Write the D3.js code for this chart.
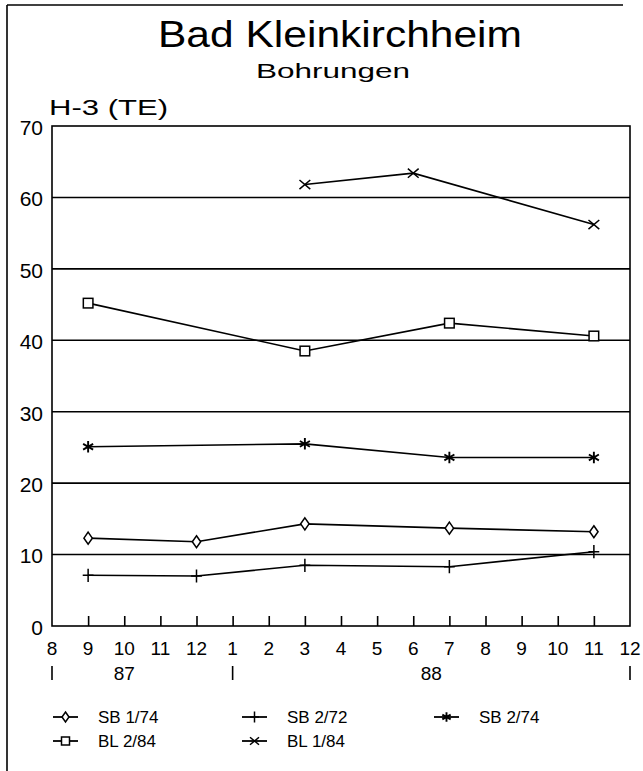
<!DOCTYPE html>
<html>
<head>
<meta charset="utf-8">
<script src="https://cdn.jsdelivr.net/npm/d3@7"></script>
<style>
  body { margin: 0; background: #fff; }
  svg { font-family: "Liberation Sans", Arial, sans-serif; }
</style>
</head>
<body>
<svg id="chart" width="643" height="771"></svg>
<script>
// month axis: Aug 1987 .. Dec 1988, index 0..16
var monthLabels = ["8", "9", "10", "11", "12", "1", "2", "3", "4", "5", "6", "7", "8", "9", "10", "11", "12"];
var yearLabels = ["87", "88"];
var yearRanges = [[0, 4], [5, 16]];
var yearBars = [0, 5, 16];
var yTicks = [0, 10, 20, 30, 40, 50, 60, 70];

// sampling dates as month index
var datesA = [1, 4, 7, 11, 15];   // 9/87, 12/87, 3/88, 7/88, 11/88
var datesB = [1, 7, 11, 15];      // 9/87, 3/88, 7/88, 11/88
var datesC = [7, 10, 15];         // 3/88, 6/88, 11/88

var sb174 = [12.3, 11.8, 14.3, 13.7, 13.2];
var sb272 = [7.1, 7.0, 8.5, 8.3, 10.4];
var sb274 = [25.1, 25.5, 23.6, 23.6];
var bl284 = [45.2, 38.5, 42.4, 40.6];
var bl184 = [61.8, 63.4, 56.2];

var series = [
  { name: "SB 1/74", marker: "diamond", dates: datesA, values: sb174 },
  { name: "SB 2/72", marker: "plus", dates: datesA, values: sb272 },
  { name: "SB 2/74", marker: "star", dates: datesB, values: sb274 },
  { name: "BL 2/84", marker: "square", dates: datesB, values: bl284 },
  { name: "BL 1/84", marker: "cross", dates: datesC, values: bl184 }
];

var svg = d3.select("#chart");
var plotLeft = 52, plotRight = 630, plotTop = 126, plotBottom = 626;

var x = d3.scaleLinear().domain([0, 16]).range([plotLeft, plotRight]);
var y = d3.scaleLinear().domain([0, 70]).range([plotBottom, plotTop]);

// outer frame (top and left edges of the page frame)
svg.append("line").attr("x1", 7).attr("x2", 623).attr("y1", 5).attr("y2", 5)
  .attr("stroke", "#000").attr("stroke-width", 1.6);
svg.append("line").attr("x1", 7).attr("x2", 7).attr("y1", 5).attr("y2", 771)
  .attr("stroke", "#000").attr("stroke-width", 1.6);

// titles
svg.append("text").attr("x", 340).attr("y", 47).attr("text-anchor", "middle")
  .attr("font-size", 37).attr("textLength", 364).attr("lengthAdjust", "spacingAndGlyphs")
  .attr("font-weight", 300)
  .text("Bad Kleinkirchheim");
svg.append("text").attr("x", 333).attr("y", 78).attr("text-anchor", "middle")
  .attr("font-size", 21).attr("textLength", 154).attr("lengthAdjust", "spacingAndGlyphs")
  .text("Bohrungen");
svg.append("text").attr("x", 49).attr("y", 115)
  .attr("font-size", 22).attr("textLength", 119).attr("lengthAdjust", "spacingAndGlyphs")
  .text("H-3 (TE)");

// grid lines
svg.append("g").selectAll("line")
  .data(yTicks.filter(d => d > 0 && d < 70))
  .join("line")
  .attr("x1", plotLeft).attr("x2", plotRight)
  .attr("y1", d => y(d)).attr("y2", d => y(d))
  .attr("stroke", "#000").attr("stroke-width", 1.6);

// plot frame
svg.append("rect").attr("x", plotLeft).attr("y", plotTop)
  .attr("width", plotRight - plotLeft).attr("height", plotBottom - plotTop)
  .attr("fill", "none").attr("stroke", "#000").attr("stroke-width", 1.6);

// y axis labels
var yAxis = d3.axisLeft(y).tickValues(yTicks).tickSize(0).tickPadding(9);
var yg = svg.append("g").attr("transform", "translate(" + plotLeft + ",0)").call(yAxis);
yg.select(".domain").remove();
yg.selectAll("text").attr("font-size", 21).attr("font-family", "Liberation Sans, Arial, sans-serif")
  .attr("fill", "#000").attr("dy", "0.4em");

// x axis: small ticks pointing up
var xAxis = d3.axisTop(x).tickValues(d3.range(1, 16)).tickSize(10).tickFormat("");
var xg = svg.append("g").attr("transform", "translate(0," + plotBottom + ")").call(xAxis);
xg.select(".domain").remove();
xg.selectAll("line").attr("stroke", "#000").attr("stroke-width", 1.6);

svg.append("g").selectAll("text")
  .data(monthLabels)
  .join("text")
  .attr("x", (d, i) => x(i)).attr("y", 655)
  .attr("text-anchor", "middle").attr("font-size", 19)
  .text(d => d);

svg.append("g").selectAll("line")
  .data(yearBars)
  .join("line")
  .attr("x1", d => x(d)).attr("x2", d => x(d))
  .attr("y1", 666).attr("y2", 680)
  .attr("stroke", "#000").attr("stroke-width", 1.6);

svg.append("g").selectAll("text")
  .data(yearLabels)
  .join("text")
  .attr("x", (d, i) => x((yearRanges[i][0] + yearRanges[i][1]) / 2)).attr("y", 680)
  .attr("text-anchor", "middle").attr("font-size", 19)
  .text(d => d);

// marker shapes, s = overall size in px
function drawMarker(g, type, s) {
  var st = { stroke: "#000", "stroke-width": 1.5, fill: "#fff" };
  var el;
  if (type == "diamond") {
    el = g.append("path").attr("d", "M0," + (-s * 0.5) + "L" + (s * 0.35) + ",0L0," + (s * 0.5) + "L" + (-s * 0.35) + ",0Z");
  } else if (type == "square") {
    el = g.append("rect").attr("x", -s * 0.4).attr("y", -s * 0.4).attr("width", s * 0.8).attr("height", s * 0.8);
  } else if (type == "plus") {
    el = g.append("path").attr("d", "M" + (-s * 0.45) + ",0H" + (s * 0.45) + "M0," + (-s * 0.55) + "V" + (s * 0.55));
  } else if (type == "cross") {
    el = g.append("path").attr("d", "M" + (-s * 0.45) + "," + (-s * 0.38) + "L" + (s * 0.45) + "," + (s * 0.38) +
      "M" + (-s * 0.45) + "," + (s * 0.38) + "L" + (s * 0.45) + "," + (-s * 0.38));
  } else {
    var r = s * 0.48;
    el = g.append("path").attr("d",
      "M0," + (-r) + "V" + r +
      "M" + (-r * 0.87) + "," + (-r * 0.5) + "L" + (r * 0.87) + "," + (r * 0.5) +
      "M" + (-r * 0.87) + "," + (r * 0.5) + "L" + (r * 0.87) + "," + (-r * 0.5));
    st["stroke-width"] = 1.9;
  }
  for (var k in st) el.attr(k, st[k]);
}

var line = d3.line().x(d => x(d[0])).y(d => y(d[1]));

series.forEach(function(s) {
  var pts = s.dates.map((d, i) => [d, s.values[i]]);
  svg.append("path").datum(pts)
    .attr("d", line)
    .attr("fill", "none").attr("stroke", "#000").attr("stroke-width", 1.6);
  pts.forEach(function(p) {
    var g = svg.append("g").attr("transform", "translate(" + x(p[0]) + "," + y(p[1]) + ")");
    drawMarker(g, s.marker, 12);
  });
});

// legend
var legendPos = [[53, 717], [242, 717], [434, 717], [53, 741], [242, 741]];
series.forEach(function(s, i) {
  var lg = svg.append("g").attr("transform", "translate(" + legendPos[i][0] + "," + legendPos[i][1] + ")");
  lg.append("line").attr("x1", 0).attr("x2", 25).attr("y1", 0).attr("y2", 0)
    .attr("stroke", "#000").attr("stroke-width", 1.8);
  var mg = lg.append("g").attr("transform", "translate(12.5,0)");
  drawMarker(mg, s.marker, 10);
  lg.append("text").attr("x", 45).attr("y", 6).attr("font-size", 17)
    .text(s.name);
});
</script>
</body>
</html>
